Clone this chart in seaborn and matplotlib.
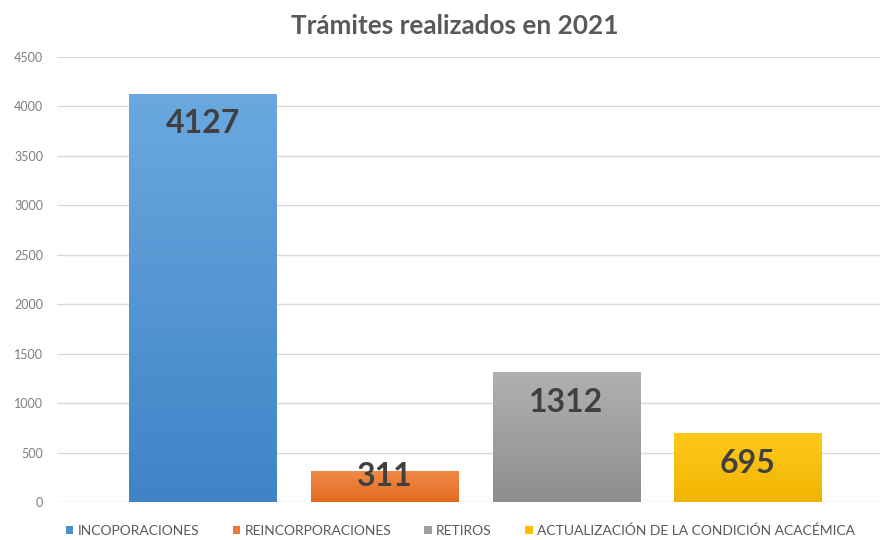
import matplotlib
matplotlib.use("Agg")
import matplotlib.pyplot as plt
import numpy as np
import seaborn as sns
from matplotlib.colors import LinearSegmentedColormap
from matplotlib.patches import Patch


categories = ["INCOPORACIONES", "REINCORPORACIONES", "RETIROS",
              "ACTUALIZACIÓN DE LA CONDICIÓN ACACÉMICA"]
values = [4127, 311, 1312, 695]
top_colors = ["#6aa8df", "#f08a48", "#b0b0b0", "#ffc91c"]
bottom_colors = ["#3f84c7", "#e46a1e", "#8e8e8e", "#f0b400"]
legend_colors = ["#4a8fd0", "#ec7a30", "#a0a0a0", "#ffc000"]
yticks = list(range(0, 4501, 500))

sns.set_style("white")
plt.rcParams["font.family"] = ["Lato", "DejaVu Sans"]

fig = plt.figure(figsize=(8.87, 5.4), dpi=100)
ax = fig.add_axes([0.0643, 0.0704, 0.9277, 0.824])

sns.barplot(x=categories, y=values, hue=categories, palette=legend_colors,
            width=0.81, legend=False, ax=ax, saturation=1, zorder=2)

# vertical gradient fill on every bar
for patch, c_top, c_bot in zip(ax.patches, top_colors, bottom_colors):
    x0, y0 = patch.get_x(), patch.get_y()
    w, h = patch.get_width(), patch.get_height()
    cmap = LinearSegmentedColormap.from_list("g", [c_bot, c_top])
    grad = np.linspace(0, 1, 100).reshape(-1, 1)
    im = ax.imshow(grad, cmap=cmap, extent=[x0, x0 + w, y0, y0 + h],
                   origin="lower", aspect="auto", zorder=3)
    im.set_clip_path(patch)
    patch.set_edgecolor("none")

ax.set_xlim(-0.804, 3.727)
ax.set_ylim(0, 4500)
ax.set_yticks(yticks)
ax.set_yticklabels([str(t) for t in yticks], color="#7f7f7f", fontsize=9)
ax.set_xticks([])
ax.tick_params(axis="y", length=0, pad=10)
ax.grid(axis="y", color="#d9d9d9", linewidth=1, zorder=0)
for s in ax.spines.values():
    s.set_visible(False)

# value labels near top of bar, kept above the baseline for short bars
px_per_unit = (0.824 * 540) / 4500
for i, v in enumerate(values):
    top_px = v * px_per_unit
    center_px = max(top_px - 30, 25)
    ax.text(i, center_px / px_per_unit, str(v), ha="center", va="center",
            fontsize=23, fontweight="bold", color="#404040", zorder=5)

fig.suptitle("Trámites realizados en 2021", x=0.513, y=0.975, fontsize=18.8,
             fontweight="bold", color="#595959")

handles = [Patch(facecolor=c, edgecolor="none") for c in legend_colors]
fig.legend(handles, categories, loc="center", ncol=4,
           bbox_to_anchor=(0.519, 0.017), frameon=False, fontsize=10,
           labelcolor="#595959", handlelength=0.55, handleheight=0.55,
           handletextpad=0.3, columnspacing=2.4)

fig.savefig("out.png", dpi=100)
